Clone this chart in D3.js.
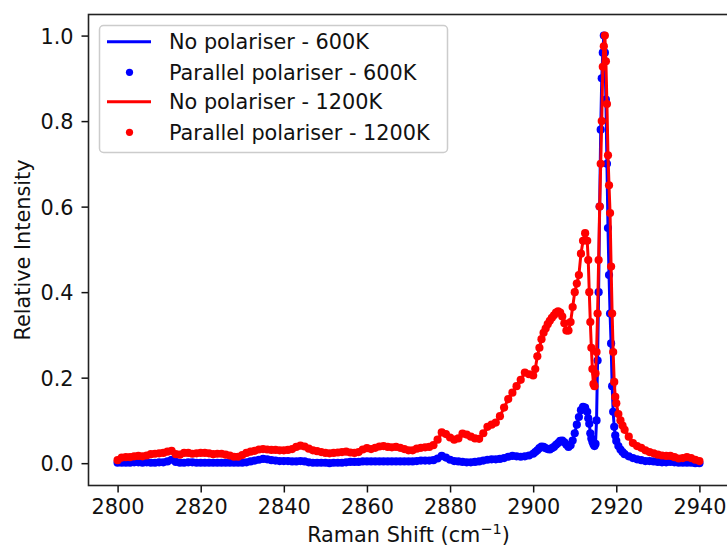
<!DOCTYPE html>
<html>
<head>
<meta charset="utf-8">
<script src="https://cdn.jsdelivr.net/npm/d3@7"></script>
<style>
  html, body { margin: 0; padding: 0; background: #fff; }
  svg { display: block; font-family: "DejaVu Sans", sans-serif; }
</style>
</head>
<body>
<svg id="chart" width="727" height="547"></svg>
<script>
// ---------------- data ----------------
const shifts = [
  2800,2801,2802,2803,2804,2805,2806,2807,2808,2809,
  2810,2811,2812,2813,2814,2815,2816,2817,2818,2819,
  2820,2821,2822,2823,2824,2825,2826,2827,2828,2829,
  2830,2831,2832,2833,2834,2835,2836,2837,2838,2839,
  2840,2841,2842,2843,2844,2845,2846,2847,2848,2849,
  2850,2851,2852,2853,2854,2855,2856,2857,2858,2859,
  2860,2861,2862,2863,2864,2865,2866,2867,2868,2869,
  2870,2871,2872,2873,2874,2875,2876,2877,2878,2879,
  2880,2881,2882,2883,2884,2885,2886,2887,2888,2889,
  2890,2891,2892,2893,2894,2895,2896,2897,2898,2899,
  2900,
  2900.5,2901,2901.5,2902,2902.5,2903,2903.5,2904,2904.5,2905,
  2905.5,2906,2906.5,2907,2907.5,2908,2908.5,2909,2909.5,2910,
  2910.5,2911,2911.5,2912,2912.5,2913,
  2913.25,2913.5,2913.75,2914,2914.25,2914.5,2914.75,2915,2915.25,2915.5,
  2915.75,2916,2916.25,2916.5,2916.75,2917,2917.25,2917.5,2917.75,2918,
  2918.25,2918.5,2918.75,2919,2919.25,2919.5,2919.75,2920,
  2920.5,2921,2921.5,2922,
  2923,2924,2925,2926,2927,2928,2929,2930,2931,2932,
  2933,2934,2935,2936,2937,2938,2939,2940
];

// No polariser - 600K
const noPol600 = [
  0.001,0.001,0.001,0.001,0.002,0.002,0.001,0.002,0.001,0.001,
  0.002,0.002,0.004,0.008,0.003,0.001,0.001,0.002,0.002,0.001,
  0.001,0.001,0.001,0.001,0.001,0.001,0.001,0.001,0.001,0.001,
  0.001,0.002,0.004,0.006,0.008,0.010,0.009,0.007,0.006,0.005,
  0.005,0.005,0.004,0.004,0.005,0.004,0.002,0.001,0.001,0.001,
  0.001,0.000,0.001,0.001,0.001,0.002,0.003,0.003,0.003,0.004,
  0.004,0.004,0.004,0.004,0.004,0.004,0.004,0.004,0.004,0.004,
  0.004,0.004,0.005,0.006,0.006,0.006,0.007,0.011,0.017,0.013,
  0.008,0.005,0.004,0.003,0.002,0.002,0.003,0.004,0.006,0.008,
  0.009,0.009,0.010,0.012,0.015,0.017,0.016,0.015,0.016,0.018,
  0.022,
  0.026,0.030,0.035,0.039,0.038,0.035,0.033,0.032,0.035,0.038,
  0.043,0.047,0.052,0.053,0.049,0.043,0.038,0.042,0.053,0.070,
  0.090,0.108,0.124,0.132,0.130,0.120,
  0.105,0.092,0.070,0.058,0.050,0.044,0.040,0.045,0.100,0.240,
  0.400,0.600,0.780,0.900,0.960,1.000,0.960,0.850,0.700,0.550,
  0.440,0.350,0.280,0.180,0.120,0.085,0.065,0.052,
  0.040,0.032,0.026,0.021,
  0.016,0.012,0.009,0.007,0.005,0.005,0.004,0.003,0.002,0.002,
  0.003,0.002,0.001,0.001,0.001,0.001,0.000,0.000
];

// No polariser - 1200K
const noPol1200 = [
  0.007,0.013,0.014,0.014,0.016,0.017,0.016,0.018,0.021,0.022,
  0.023,0.024,0.027,0.029,0.021,0.020,0.024,0.024,0.022,0.023,
  0.024,0.024,0.023,0.021,0.022,0.022,0.020,0.018,0.015,0.015,
  0.019,0.024,0.027,0.029,0.032,0.033,0.032,0.031,0.031,0.030,
  0.030,0.031,0.033,0.038,0.041,0.039,0.034,0.030,0.028,0.026,
  0.024,0.023,0.024,0.025,0.026,0.027,0.025,0.024,0.026,0.032,
  0.035,0.033,0.036,0.039,0.040,0.038,0.037,0.038,0.036,0.033,
  0.030,0.030,0.034,0.036,0.037,0.038,0.042,0.055,0.072,0.068,
  0.060,0.055,0.058,0.069,0.067,0.062,0.058,0.057,0.070,0.085,
  0.090,0.095,0.110,0.130,0.150,0.165,0.180,0.195,0.212,0.208,
  0.205,
  0.220,0.250,0.270,0.290,0.305,0.315,0.325,0.333,0.340,0.346,
  0.352,0.355,0.352,0.343,0.327,0.310,0.310,0.330,0.365,0.400,
  0.420,0.440,0.490,0.520,0.538,0.520,
  0.475,0.400,0.330,0.270,0.220,0.185,0.180,0.210,0.260,0.350,
  0.475,0.600,0.700,0.800,0.927,0.975,1.000,0.940,0.840,0.720,
  0.650,0.585,0.460,0.350,0.260,0.190,0.155,0.140,
  0.115,0.100,0.088,0.078,
  0.062,0.047,0.040,0.036,0.030,0.026,0.023,0.020,0.018,0.017,
  0.017,0.014,0.011,0.012,0.014,0.012,0.008,0.005
];

// Parallel polariser readings coincide with the no-polariser ones at this resolution
const parallel600 = noPol600.slice();
const parallel1200 = noPol1200.slice();

const xTicks = [2800, 2820, 2840, 2860, 2880, 2900, 2920, 2940];
const yTicks = [0.0, 0.2, 0.4, 0.6, 0.8, 1.0];
const legendLabels = [
  "No polariser - 600K",
  "Parallel polariser - 600K",
  "No polariser - 1200K",
  "Parallel polariser - 1200K"
];

// ---------------- layout ----------------
const W = 727, H = 547;
const L = 88.5, R = 728.5, T = 14.5, B = 485.5;
const FS = 20.8;
const BLUE = "#0000ff", RED = "#ff0000";

const svg = d3.select("#chart");

const x = d3.scaleLinear().domain([2793, 2947]).range([L, R]);
const y = d3.scaleLinear().domain([-0.0522, 1.0493]).range([B, T]);

function pts(ys) { return shifts.map((s, i) => [s, ys[i]]); }

const line = d3.line().x(d => x(d[0])).y(d => y(d[1]));

svg.append("defs").append("clipPath").attr("id", "clip")
  .append("rect").attr("x", L).attr("y", T).attr("width", R - L).attr("height", B - T);

const plot = svg.append("g").attr("clip-path", "url(#clip)");

function drawLine(ys, color) {
  plot.append("path").datum(pts(ys))
    .attr("d", line).attr("fill", "none")
    .attr("stroke", color).attr("stroke-width", 3)
    .attr("stroke-linejoin", "round").attr("stroke-linecap", "square");
}
function drawDots(ys, color) {
  plot.append("g").selectAll("circle").data(pts(ys)).join("circle")
    .attr("cx", d => x(d[0])).attr("cy", d => y(d[1]))
    .attr("r", 4.1).attr("fill", color);
}

drawLine(noPol600, BLUE);
drawDots(parallel600, BLUE);
drawLine(noPol1200, RED);
drawDots(parallel1200, RED);

// ---------------- axes ----------------
const xAxis = svg.append("g").attr("transform", `translate(0,${B})`)
  .call(d3.axisBottom(x).tickValues(xTicks).tickSize(7).tickPadding(7).tickFormat(d3.format("d")));
const yAxis = svg.append("g").attr("transform", `translate(${L},0)`)
  .call(d3.axisLeft(y).tickValues(yTicks).tickSize(7).tickPadding(8).tickFormat(d3.format(".1f")));

[xAxis, yAxis].forEach(g => {
  g.select(".domain").remove();
  g.selectAll(".tick line").attr("stroke", "#111").attr("stroke-width", 1.5);
  g.selectAll(".tick text").attr("fill", "#111")
    .style("font-family", "'DejaVu Sans', sans-serif").style("font-size", FS + "px");
});
yAxis.selectAll(".tick text").attr("dy", "0.36em");

// spines
svg.append("rect").attr("x", L).attr("y", T).attr("width", R - L).attr("height", B - T)
  .attr("fill", "none").attr("stroke", "#222").attr("stroke-width", 1.6);

// axis labels
const xl = svg.append("text").attr("x", (L + R) / 2).attr("y", 542)
  .attr("text-anchor", "middle").attr("fill", "#111").style("font-size", FS + "px");
xl.append("tspan").text("Raman Shift (cm");
xl.append("tspan").attr("dy", -8).style("font-size", "14.5px").text("\u22121");
xl.append("tspan").attr("dy", 8).text(")");

svg.append("text")
  .attr("transform", `translate(29.5,${(T + B) / 2}) rotate(-90)`)
  .attr("text-anchor", "middle").attr("fill", "#111").style("font-size", FS + "px")
  .text("Relative Intensity");

// ---------------- legend ----------------
const lg = svg.append("g");
lg.append("rect").attr("x", 99.5).attr("y", 25.5).attr("width", 348).attr("height", 127)
  .attr("rx", 4).attr("fill", "#fff").attr("fill-opacity", 0.8)
  .attr("stroke", "#cccccc").attr("stroke-width", 1.5);
const rowsY = [41.7, 72.3, 101.7, 132.3];
const legendKinds = [
  { color: BLUE, kind: "line" },
  { color: BLUE, kind: "dot" },
  { color: RED, kind: "line" },
  { color: RED, kind: "dot" }
];
legendLabels.forEach((lab, i) => {
  const k = legendKinds[i], cy = rowsY[i];
  if (k.kind === "line") {
    lg.append("line").attr("x1", 107).attr("x2", 151).attr("y1", cy).attr("y2", cy)
      .attr("stroke", k.color).attr("stroke-width", 3);
  } else {
    lg.append("circle").attr("cx", 129.5).attr("cy", cy).attr("r", 3.6).attr("fill", k.color);
  }
  lg.append("text").attr("x", 169).attr("y", cy + 7.6).attr("fill", "#111")
    .style("font-size", FS + "px").text(lab);
});
</script>
</body>
</html>
